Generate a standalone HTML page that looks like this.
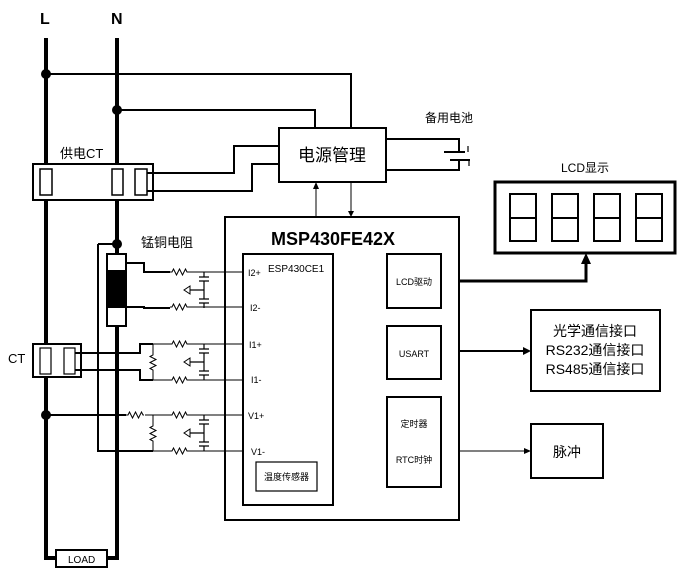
<!DOCTYPE html>
<html><head><meta charset="utf-8"><style>
html,body{margin:0;padding:0;background:#fff;}
svg{display:block}
text{font-family:"Liberation Sans","Noto Sans CJK SC",sans-serif;fill:#000}
</style></head><body>
<svg width="679" height="571" viewBox="0 0 679 571" xmlns="http://www.w3.org/2000/svg">
<defs>
<path id="rh" d="M0 0 h2 l1.5 -3 l3 6 l3 -6 l3 6 l3 -6 l1.5 3 h1" fill="none" stroke="#000" stroke-width="1"/>
<path id="rv" d="M0 0 v2 l-3 1.5 l6 3 l-6 3 l6 3 l-6 3 l3 1.5 v1" fill="none" stroke="#000" stroke-width="1"/>
<g id="cap">
<path d="M0 0 v5 M-5 5 h10 M-5 9 h10 M0 9 v9 M0 18 h-14 M0 18 v9 M-5 27 h10 M-5 31 h10 M0 31 v5" fill="none" stroke="#000" stroke-width="1.2"/>
<path d="M-14 14 l-6 4 l6 4 z" fill="#fff" stroke="#000" stroke-width="1"/>
</g>
</defs>
<g fill="none" stroke="#000">
<!-- L N -->
<text x="40" y="24" font-size="16" font-weight="bold" stroke="none">L</text>
<text x="111" y="24" font-size="16" font-weight="bold" stroke="none">N</text>
<path d="M46 38 V558 H56 M107 558 H117 V38" stroke-width="4"/>
<rect x="56" y="550" width="51" height="17" stroke-width="2" fill="#fff"/>
<text x="68" y="563" font-size="10" stroke="none">LOAD</text>
<circle cx="46" cy="74" r="4.5" fill="#000"/>
<circle cx="117" cy="110" r="4.5" fill="#000"/>
<circle cx="117" cy="244" r="4.5" fill="#000"/>
<circle cx="46" cy="415" r="4.5" fill="#000"/>
<path d="M46 74 H351 V128 M117 110 H315 V128" stroke-width="2"/>
<!-- supply CT -->
<text x="60" y="158" font-size="13" stroke="none">供电CT</text>
<rect x="33" y="164" width="120" height="36" stroke-width="2" fill="#fff"/>
<rect x="40" y="169" width="12" height="26" stroke-width="1.5"/>
<rect x="112" y="169" width="11" height="26" stroke-width="1.5"/>
<rect x="135" y="169" width="12" height="26" stroke-width="1.5"/>
<path d="M147 173 H234 V146 H279 M147 191 H252 V164 H279" stroke-width="2"/>
<!-- power mgmt -->
<rect x="279" y="128" width="107" height="54" stroke-width="2"/>
<text x="332" y="161" font-size="17" text-anchor="middle" stroke="none">电源管理</text>
<text x="425" y="122" font-size="12" stroke="none">备用电池</text>
<path d="M386 139 H459 V152 M386 170 H459 V160" stroke-width="2"/>
<path d="M444 152 H465 M450 160 H470" stroke-width="2"/>
<path d="M468 146 v6 M469 160 v6" stroke-width="1.2"/>
<!-- arrows -->
<path d="M316 217 V186 M351 182 V212" stroke-width="1"/>
<path d="M313 189 L316 182 L319 189 Z M348 211 L351 217 L354 211 Z" fill="#000" stroke="none"/>
<!-- MSP -->
<rect x="225" y="217" width="234" height="303" stroke-width="2"/>
<text x="333" y="245" font-size="18" font-weight="bold" text-anchor="middle" stroke="none">MSP430FE42X</text>
<rect x="243" y="254" width="90" height="251" stroke-width="2"/>
<text x="268" y="272" font-size="10" stroke="none">ESP430CE1</text>
<rect x="256" y="462" width="61" height="29" stroke-width="1.2"/>
<text x="286.5" y="480" font-size="9" text-anchor="middle" stroke="none">温度传感器</text>
<rect x="387" y="254" width="54" height="54" stroke-width="2"/>
<text x="414" y="285" font-size="9" text-anchor="middle" stroke="none">LCD驱动</text>
<rect x="387" y="326" width="54" height="53" stroke-width="2"/>
<text x="414" y="357" font-size="9" text-anchor="middle" stroke="none">USART</text>
<rect x="387" y="397" width="54" height="90" stroke-width="2"/>
<text x="414" y="427" font-size="9" text-anchor="middle" stroke="none">定时器</text>
<text x="414" y="463" font-size="9" text-anchor="middle" stroke="none">RTC时钟</text>
<g font-size="9" stroke="none">
<text x="248" y="276">I2+</text><text x="250" y="311">I2-</text>
<text x="249" y="348">I1+</text><text x="251" y="383">I1-</text>
<text x="248" y="419">V1+</text><text x="251" y="455">V1-</text>
</g>
<!-- LCD -->
<rect x="495" y="182" width="180" height="71" stroke-width="3"/>
<g stroke-width="2">
<rect x="510" y="194" width="26" height="47"/><path d="M510 218 h26"/>
<rect x="552" y="194" width="26" height="47"/><path d="M552 218 h26"/>
<rect x="594" y="194" width="26" height="47"/><path d="M594 218 h26"/>
<rect x="636" y="194" width="26" height="47"/><path d="M636 218 h26"/>
</g>
<text x="585" y="172" font-size="12" text-anchor="middle" stroke="none">LCD显示</text>
<path d="M459 281 H586 V262" stroke-width="3"/>
<path d="M581 264 L586 253 L591 264 Z" fill="#000" stroke="none"/>
<rect x="531" y="310" width="129" height="81" stroke-width="2"/>
<g font-size="14" text-anchor="middle" stroke="none" style="font-family:'Liberation Serif','Noto Serif CJK SC',serif">
<text x="595" y="336">光学通信接口</text>
<text x="595" y="355">RS232通信接口</text>
<text x="595" y="374">RS485通信接口</text>
</g>
<path d="M459 351 H525" stroke-width="2"/>
<path d="M523 347 L531 351 L523 355 Z" fill="#000" stroke="none"/>
<rect x="531" y="424" width="72" height="54" stroke-width="2"/>
<text x="567" y="457" font-size="14" text-anchor="middle" stroke="none">脉冲</text>
<path d="M459 451 H525" stroke-width="1"/>
<path d="M524 448 L531 451 L524 454 Z" fill="#000" stroke="none"/>
<!-- shunt -->
<text x="141" y="247" font-size="13" stroke="none">锰铜电阻</text>
<path d="M98 244 H117 M98 244 V451 H153" stroke-width="2"/>
<rect x="107" y="254" width="19" height="72" stroke-width="2" fill="#fff"/>
<rect x="108" y="270" width="17" height="38" fill="#000" stroke="none"/>
<path d="M126 263 H144 V272 H170 M126 307 H144 V308 H170" stroke-width="2"/>
<use href="#rh" x="170" y="272"/><use href="#rh" x="170" y="307"/>
<path d="M188 272 H243 M188 307 H243" stroke-width="1"/>
<use href="#cap" x="204" y="272"/>
<!-- CT -->
<text x="8" y="363" font-size="13" stroke="none">CT</text>
<rect x="33" y="344" width="48" height="33" stroke-width="2" fill="#fff"/>
<rect x="40" y="348" width="11" height="26" stroke-width="1.2"/>
<rect x="64" y="348" width="11" height="26" stroke-width="1.2"/>
<path d="M75 353 H140 V344 H153 M75 370 H140 V380 H153" stroke-width="2"/>
<path d="M153 344 H170 M153 380 H170 M153 344 v10 M153 370 v10" stroke-width="1"/>
<use href="#rv" x="153" y="353"/>
<use href="#rh" x="170" y="344"/><use href="#rh" x="170" y="380"/>
<path d="M188 344 H243 M188 380 H243" stroke-width="1"/>
<use href="#cap" x="204" y="344"/>
<!-- V -->
<path d="M46 415 H126" stroke-width="2"/>
<use href="#rh" x="126" y="415"/>
<path d="M145 415 H170 M153 451 H170 M153 415 v9 M153 442 v9" stroke-width="1"/>
<use href="#rv" x="153" y="424"/>
<use href="#rh" x="170" y="415"/><use href="#rh" x="170" y="451"/>
<path d="M188 415 H243 M188 451 H243" stroke-width="1"/>
<use href="#cap" x="204" y="415"/>
</g>
</svg>
</body></html>
